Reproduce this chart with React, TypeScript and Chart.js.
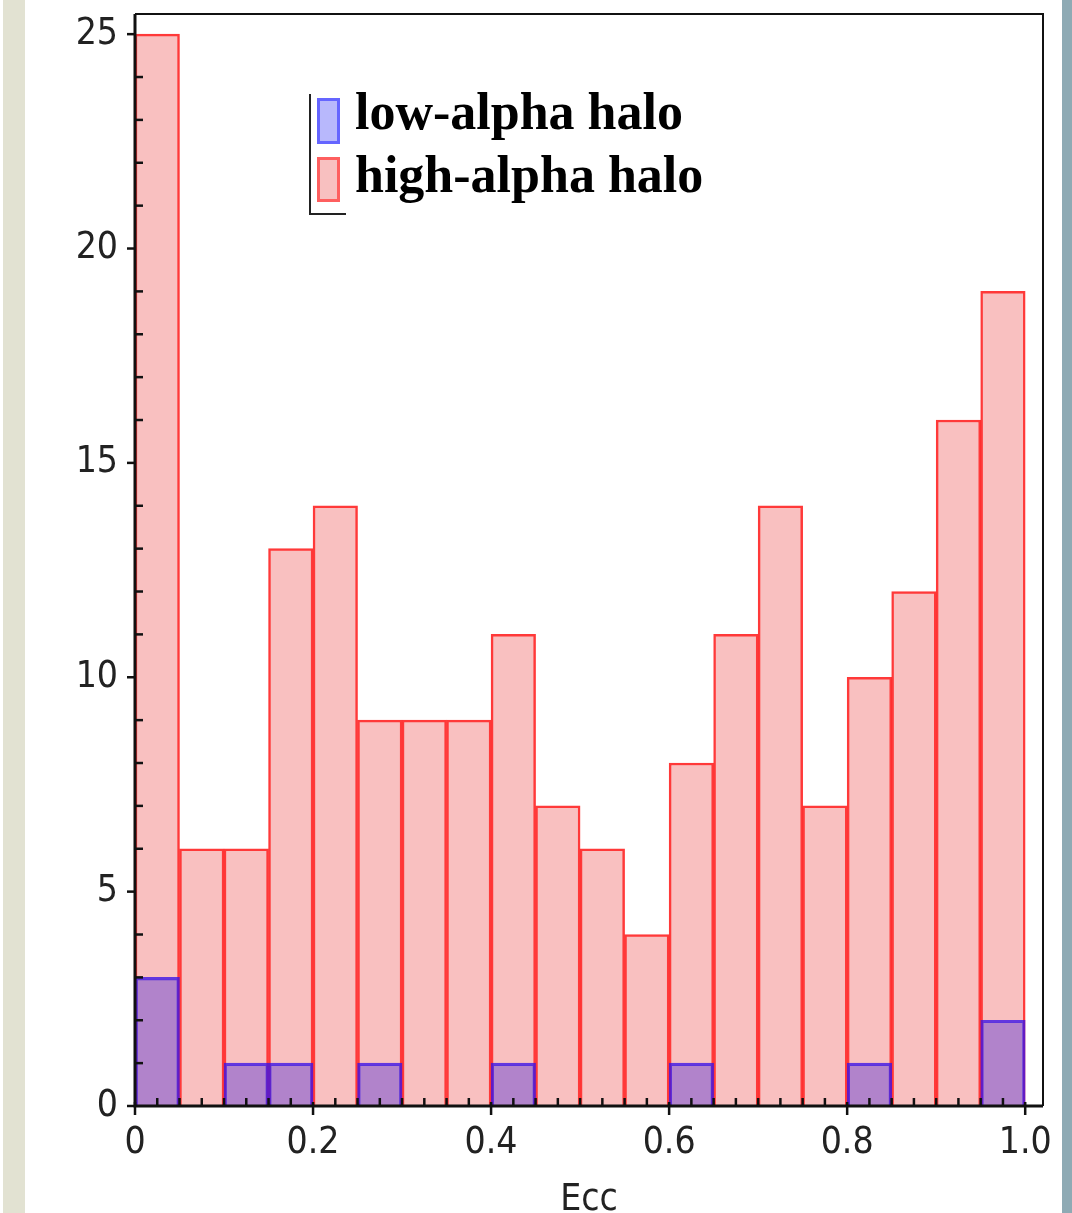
import React, { useEffect, useRef } from "react";
import { Chart, registerables } from "chart.js";

Chart.register(...registerables);

// ---- data ----
const binStarts = [0, 0.05, 0.1, 0.15, 0.2, 0.25, 0.3, 0.35, 0.4, 0.45, 0.5, 0.55, 0.6, 0.65, 0.7, 0.75, 0.8, 0.85, 0.9, 0.95];
const binWidth = 0.05;
const highAlpha = [25, 6, 6, 13, 14, 9, 9, 9, 11, 7, 6, 4, 8, 11, 14, 7, 10, 12, 16, 19];
const lowAlpha = [3, 0, 1, 1, 0, 1, 0, 0, 1, 0, 0, 0, 1, 0, 0, 0, 1, 0, 0, 2];
const seriesNames = ["low-alpha halo", "high-alpha halo"];
const xTickLabels = ["0", "0.2", "0.4", "0.6", "0.8", "1.0"];
const yTickLabels = ["0", "5", "10", "15", "20", "25"];
const xTitle = "Ecc";

const tickFont = '"Liberation Sans Narrow", "DejaVu Sans Condensed", sans-serif';

const framePlugin = {
  id: "frameTicks",
  afterDatasetsDraw(chart: any) {
    const { ctx, chartArea: a, scales } = chart;
    const xs = scales.x;
    const ys = scales.y;
    ctx.save();
    ctx.strokeStyle = "#111";
    ctx.lineWidth = 2;
    ctx.beginPath();
    ctx.moveTo(a.left, a.top);
    ctx.lineTo(a.right, a.top);
    ctx.lineTo(a.right, a.bottom);
    ctx.stroke();
    ctx.lineWidth = 3;
    ctx.beginPath();
    ctx.moveTo(a.left, a.top);
    ctx.lineTo(a.left, a.bottom);
    ctx.lineTo(a.right, a.bottom);
    ctx.stroke();
    ctx.lineWidth = 2.5;
    for (let v = 0; v <= 25; v++) {
      const y = ys.getPixelForValue(v);
      ctx.beginPath();
      if (v % 5 === 0) {
        ctx.moveTo(a.left - 8, y);
        ctx.lineTo(a.left, y);
      } else {
        ctx.moveTo(a.left, y);
        ctx.lineTo(a.left + 8, y);
      }
      ctx.stroke();
    }
    for (let i = 0; i <= 40; i++) {
      const x = xs.getPixelForValue(i * 0.025);
      ctx.beginPath();
      if (i % 8 === 0) {
        ctx.moveTo(x, a.bottom - 4);
        ctx.lineTo(x, a.bottom + 9);
      } else {
        ctx.moveTo(x, a.bottom - 8);
        ctx.lineTo(x, a.bottom);
      }
      ctx.stroke();
    }
    ctx.restore();
  },
};

export default function App() {
  const ref = useRef<HTMLCanvasElement | null>(null);

  useEffect(() => {
    if (!ref.current) return;
    const centers = binStarts.map((s) => s + binWidth / 2);
    const chart = new Chart(ref.current, {
      type: "bar",
      data: {
        datasets: [
          {
            label: seriesNames[0],
            data: centers.map((x, i) => ({ x, y: lowAlpha[i] })),
            backgroundColor: "rgba(70,40,220,0.4)",
            borderColor: "rgba(60,20,230,0.8)",
            borderWidth: 2.5,
            grouped: false,
            order: 1,
            barPercentage: 1,
            categoryPercentage: 1,
          },
          {
            label: seriesNames[1],
            data: centers.map((x, i) => ({ x, y: highAlpha[i] })),
            backgroundColor: "#f9c0c0",
            borderColor: "rgba(255,30,30,0.88)",
            borderWidth: 2.5,
            grouped: false,
            order: 2,
            barPercentage: 1,
            categoryPercentage: 1,
          },
        ] as any,
      },
      options: {
        animation: false,
        responsive: false,
        devicePixelRatio: 1,
        layout: { padding: { left: 25, top: 14, right: 29, bottom: 0 } },
        plugins: { legend: { display: false }, tooltip: { enabled: false } },
        scales: {
          x: {
            type: "linear",
            min: 0,
            max: 1.02,
            offset: false,
            grid: { display: false, drawTicks: false },
            border: { display: false },
            ticks: {
              stepSize: 0.2,
              includeBounds: false,
              autoSkip: false,
              maxRotation: 0,
              padding: 15,
              color: "#222",
              font: { family: tickFont, size: 37 },
              callback: (_v: any, i: number) => xTickLabels[i] ?? "",
            },
            title: {
              display: true,
              text: xTitle,
              color: "#222",
              font: { family: tickFont, size: 37, lineHeight: 0.67 },
              padding: 0,
            },
            afterFit: (s: any) => {
              s.height = 1213 - 1106;
              s.paddingLeft = 0;
              s.paddingRight = 0;
            },
          } as any,
          y: {
            type: "linear",
            min: 0,
            max: 25.47,
            grid: { display: false, drawTicks: false },
            border: { display: false },
            ticks: {
              stepSize: 5,
              includeBounds: false,
              padding: 17,
              color: "#222",
              font: { family: tickFont, size: 37 },
              callback: (_v: any, i: number) => yTickLabels[i] ?? "",
            },
            afterFit: (s: any) => {
              s.width = 110;
              s.paddingTop = 0;
              s.paddingBottom = 0;
            },
          } as any,
        },
      },
      plugins: [framePlugin],
    });
    return () => chart.destroy();
  }, []);

  const legendText: React.CSSProperties = {
    position: "absolute",
    left: 355,
    fontFamily: '"Liberation Serif", "DejaVu Serif", serif',
    fontWeight: "bold",
    fontSize: 52,
    lineHeight: "52px",
    color: "#000",
    whiteSpace: "nowrap",
  };

  return (
    <div
      style={{
        position: "absolute",
        left: 0,
        top: 0,
        width: 1072,
        height: 1213,
        overflow: "hidden",
        background: "#fff",
      }}
    >
      <div style={{ position: "absolute", left: 3, top: 0, width: 22, height: 1213, background: "#e2e2d2" }} />
      <div style={{ position: "absolute", left: 1062, top: 0, width: 10, height: 1213, background: "#8eaab4" }} />
      <canvas ref={ref} width={1072} height={1213} style={{ position: "absolute", left: 0, top: 0 }} />
      <div
        style={{
          position: "absolute",
          left: 309,
          top: 94,
          width: 35,
          height: 119,
          borderLeft: "2px solid #222",
          borderBottom: "2px solid #222",
        }}
      />
      <div
        style={{
          position: "absolute",
          left: 317,
          top: 98,
          width: 17,
          height: 40,
          border: "3px solid rgba(80,80,255,0.8)",
          background: "#b8b8fc",
        }}
      />
      <div
        style={{
          position: "absolute",
          left: 317,
          top: 157,
          width: 17,
          height: 39,
          border: "3px solid rgba(255,70,70,0.8)",
          background: "#f8c0c0",
        }}
      />
      <div style={{ ...legendText, top: 86 }}>{seriesNames[0]}</div>
      <div style={{ ...legendText, top: 149 }}>{seriesNames[1]}</div>
    </div>
  );
}
